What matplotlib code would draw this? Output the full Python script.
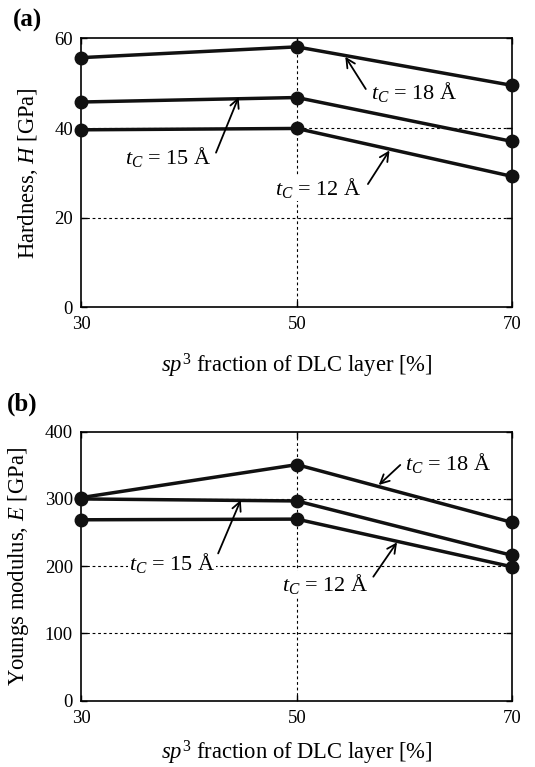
import matplotlib
matplotlib.use("Agg")
import matplotlib.pyplot as plt

plt.rcParams['font.family'] = ['Liberation Serif', 'DejaVu Serif']
plt.rcParams['mathtext.fontset'] = 'custom'
plt.rcParams['mathtext.rm'] = 'Liberation Serif'
plt.rcParams['mathtext.it'] = 'Liberation Serif:italic'
plt.rcParams['mathtext.bf'] = 'Liberation Serif:bold'

sp3 = [30, 50, 70]
H_18 = [55.7, 58.1, 49.5]
H_15 = [45.8, 46.8, 37.0]
H_12 = [39.6, 39.9, 29.2]
E_18 = [302, 351, 265]
E_15 = [300, 297, 216]
E_12 = [269, 270, 199]
labels = ["$t_C$ = 18 Å", "$t_C$ = 15 Å", "$t_C$ = 12 Å"]

fig = plt.figure(figsize=(5.35, 7.67), dpi=100)
axA = fig.add_axes([0.152, 0.5993, 0.8056, 0.3507])
axB = fig.add_axes([0.152, 0.0864, 0.8056, 0.3508])

TICK_FS = 13.5
LAB_FS = 16.3
NOTE_FS = 16


def style(ax, ymax, yticks, ylabel, xpad):
    ax.set_xlim(30, 70)
    ax.set_ylim(0, ymax)
    ax.set_xticks(sp3)
    ax.set_yticks(yticks)
    ax.tick_params(direction='in', top=True, right=True, length=4, width=1,
                   labelsize=TICK_FS, pad=6)
    ax.tick_params(axis='x', pad=6.5)
    for s in ax.spines.values():
        s.set_linewidth(1.2)
    for yv in yticks[1:-1]:
        ax.axhline(yv, color='black', lw=0.8, ls=(0, (2.5, 2.5)), zorder=1)
    ax.axvline(50, color='black', lw=0.8, ls=(0, (2.5, 2.5)), zorder=1)
    ax.set_ylabel(ylabel, fontsize=LAB_FS, labelpad=10)
    ax.set_xlabel(r"$sp^{\mathit{3}}$ fraction of DLC layer [%]", fontsize=LAB_FS,
                  labelpad=xpad)


def series(ax, ys):
    for y in ys:
        ax.plot(sp3, y, color='#111111', lw=2.5, marker='o', ms=9,
                clip_on=False, zorder=3)


def note(ax, text, tx, ty, ha, tail, head):
    ax.annotate('', xy=head, xytext=tail,
                arrowprops=dict(arrowstyle='->', lw=1.3, color='black',
                                mutation_scale=16, shrinkA=0, shrinkB=0),
                zorder=4)
    ax.text(tx, ty, text, ha=ha, va='center', fontsize=NOTE_FS, zorder=4,
            bbox=dict(facecolor='white', edgecolor='none', pad=0.5))


style(axA, 60, [0, 20, 40, 60], "Hardness, $H$ [GPa]", 13)
series(axA, [H_18, H_15, H_12])
note(axA, labels[0], 56.9, 48.1, 'left', (56.4, 48.7), (54.5, 55.9))
note(axA, labels[1], 42.1, 33.6, 'right', (42.5, 34.5), (44.6, 46.9))
note(axA, labels[2], 56.0, 26.6, 'right', (56.6, 27.5), (58.6, 35.0))

style(axB, 400, [0, 100, 200, 300, 400], "Youngs modulus, $E$ [GPa]", 8.5)
series(axB, [E_18, E_15, E_12])
note(axB, labels[0], 60.0, 353, 'left', (59.6, 350.5), (57.6, 320.7))
note(axB, labels[1], 42.4, 205, 'right', (42.7, 219), (44.8, 298.4))
note(axB, labels[2], 56.6, 173.5, 'right', (57.1, 184.4), (59.3, 235.5))

fig.text(13 / 535, 1 - 20 / 767, "(a)", fontsize=18, fontweight='bold', va='center')
fig.text(7 / 535, 1 - 404 / 767, "(b)", fontsize=18, fontweight='bold', va='center')

fig.savefig("out.png", dpi=100)
